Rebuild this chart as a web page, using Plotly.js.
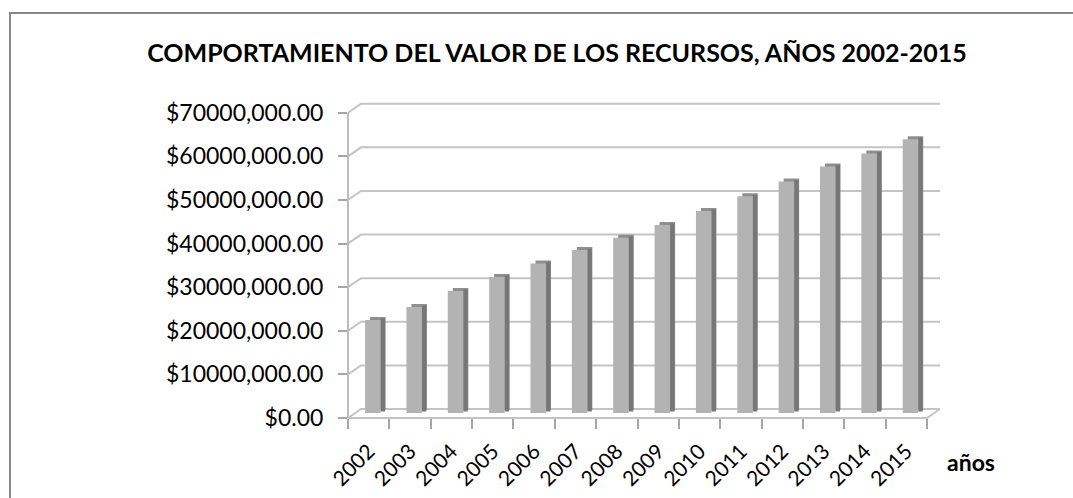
<!DOCTYPE html>
<html>
<head>
<meta charset="utf-8">
<script src="https://cdn.plot.ly/plotly-3.0.1.min.js"></script>
<style>
  html, body { margin: 0; padding: 0; background: #fff; }
  #chart { width: 1073px; height: 498px; }
</style>
</head>
<body>
<div id="chart"></div>
<script>
// ---- data ----
const years = ['2002','2003','2004','2005','2006','2007','2008','2009','2010','2011','2012','2013','2014','2015'];
const values = [21300000, 24300000, 28000000, 31200000, 34300000, 37400000, 40200000, 43100000,
                46300000, 49700000, 53100000, 56500000, 59500000, 62800000];
const yTickVals = [0, 10000000, 20000000, 30000000, 40000000, 50000000, 60000000, 70000000];
const chartTitle = 'COMPORTAMIENTO DEL VALOR DE LOS RECURSOS, AÑOS 2002-2015';
const xLabel = 'años';

function fmtMoney(v) {
  if (v === 0) return '$0.00';
  return '$' + Math.floor(v / 1000) + ',' + String(v % 1000).padStart(3, '0') + '.00';
}
const yTickText = yTickVals.map(fmtMoney);

// ---- geometry (pseudo 3D) ----
const W = 1073, H = 498;
const L = 348, R = 940, T = 102, B = 418;
const plotW = R - L, plotH = B - T;
const catPx = (927 - L) / years.length;          // px per category
const pxPerUnit = 43.61 / 10000000;              // px per value unit
const yMax = plotH / pxPerUnit;
const depthDx = 13, depthDy = 9;                 // back wall offset
const backShift = depthDy / pxPerUnit;
const barShift = 5 / pxPerUnit;                  // bar sits mid depth
const capH = 3 / pxPerUnit;

const px2x = p => (p - L) / plotW;
const py2y = p => (B - p) / plotH;

const frontOffset = -3.6 / catPx;
const frontWidth = 15.5 / catPx;
const sideWidth = 4.5 / catPx;

const baseArr = values.map(() => barShift);

const traces = [
  { // top/back block (cap)
    type: 'bar', x: years, y: values, base: values.map(() => barShift + capH),
    offset: frontOffset + 5 / catPx, width: frontWidth,
    marker: { color: '#8f8f8f', line: { width: 0 } }, hoverinfo: 'skip', showlegend: false
  },
  { // side face
    type: 'bar', x: years, y: values, base: values.map(() => barShift + capH * 0.5),
    offset: frontOffset + frontWidth, width: sideWidth,
    marker: { color: '#777777', line: { width: 0 } }, hoverinfo: 'skip', showlegend: false
  },
  { // front face
    type: 'bar', x: years, y: values, base: baseArr,
    offset: frontOffset, width: frontWidth,
    marker: { color: '#b3b3b3', line: { width: 0 } }, showlegend: false
  }
];

const gridColor = '#c4c4c4';
const shapes = [];
// back wall gridlines with diagonal connector from front ticks
yTickVals.forEach(v => {
  shapes.push({
    type: 'path', xref: 'paper', yref: 'y', layer: 'below',
    path: `M ${px2x(L)},${v} L ${px2x(L + depthDx)},${v + backShift} L ${px2x(R)},${v + backShift}`,
    line: { color: gridColor, width: 2 }
  });
});
// front vertical axis line
shapes.push({
  type: 'line', xref: 'paper', yref: 'y', layer: 'below',
  x0: 0, x1: 0, y0: 0, y1: yTickVals[yTickVals.length - 1],
  line: { color: '#bdbdbd', width: 2 }
});
// floor front edge + right diagonal
shapes.push({
  type: 'path', xref: 'paper', yref: 'paper', layer: 'below',
  path: `M ${px2x(L)},${py2y(B)} L ${px2x(927)},${py2y(B)} L ${px2x(R)},${py2y(B - depthDy)}`,
  line: { color: gridColor, width: 2 }
});
// chart border (left/top)
shapes.push({
  type: 'path', xref: 'paper', yref: 'paper', layer: 'below',
  path: `M ${px2x(10)},${py2y(520)} L ${px2x(10)},${py2y(13)} L ${px2x(1090)},${py2y(13)}`,
  line: { color: '#888888', width: 2 }
});

const layout = {
  width: W, height: H,
  margin: { l: L, r: W - R, t: T, b: H - B, pad: 0 },
  paper_bgcolor: 'rgba(0,0,0,0)', plot_bgcolor: 'rgba(0,0,0,0)',
  barmode: 'overlay',
  font: { family: 'Lato, "Open Sans", sans-serif', color: '#000' },
  title: {
    text: '<b>' + chartTitle + '</b>',
    font: { family: 'Lato, "Open Sans", sans-serif', size: 25, color: '#000' },
    x: 557 / W, xanchor: 'center', y: 1 - 53 / H, yanchor: 'middle', xref: 'container', yref: 'container'
  },
  xaxis: {
    type: 'category', range: [-0.5, -0.5 + plotW / catPx],
    tickson: 'boundaries', ticks: 'outside', ticklen: 10, tickwidth: 2, tickcolor: '#a6a6a6',
    ticklabelstandoff: 16,
    tickangle: -45, tickfont: { size: 21, family: 'Lato, sans-serif', color: '#000' },
    showgrid: false, showline: false, zeroline: false, fixedrange: true
  },
  yaxis: {
    range: [0, yMax], tickvals: yTickVals, ticktext: yTickText,
    ticks: 'outside', ticklen: 9, tickwidth: 2, tickcolor: '#a6a6a6',
    ticklabelstandoff: 10,
    tickfont: { size: 23, family: 'Lato, sans-serif', color: '#000' },
    showgrid: false, showline: false, zeroline: false, fixedrange: true
  },
  shapes: shapes,
  annotations: [{
    text: '<b>' + xLabel + '</b>', xref: 'paper', yref: 'paper',
    x: px2x(945), y: py2y(462), xanchor: 'left', yanchor: 'middle', showarrow: false,
    font: { size: 23, family: 'Lato, sans-serif', color: '#000' }
  }]
};

Plotly.newPlot('chart', traces, layout, { displayModeBar: false, staticPlot: true });
</script>
</body>
</html>
